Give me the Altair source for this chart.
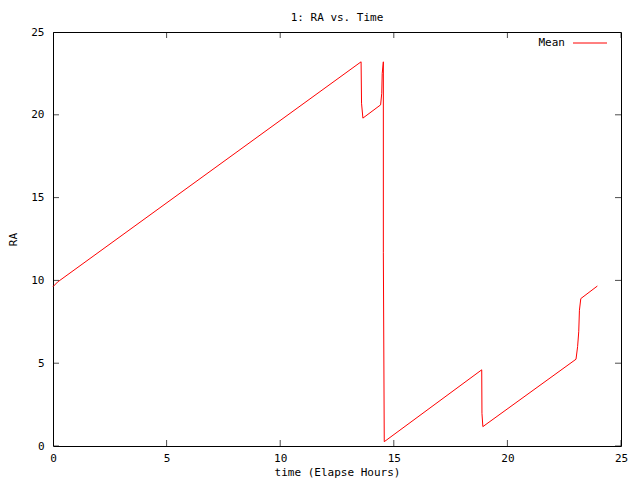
import altair as alt
import pandas as pd

# Data
time_h = [0.0, 0.2, 13.56, 13.58, 13.64, 14.42, 14.47, 14.49, 14.54, 14.54, 14.58,
          18.87, 18.88, 18.92, 23.02, 23.09, 23.14, 23.17, 23.23, 23.96]
ra = [9.62, 9.9, 23.2, 20.7, 19.8, 20.6, 21.3, 22.5, 23.2, 11.7, 0.26,
      4.6, 1.97, 1.17, 5.24, 6.0, 6.9, 8.2, 8.9, 9.66]
tick_vals = [0, 5, 10, 15, 20, 25]
legend_label = ["Mean"]

FONT = "DejaVu Sans Mono"
FS = 11
W, H = 568, 414

xs = alt.Scale(domain=[0, 25], nice=False, zero=False)
ys = alt.Scale(domain=[0, 25], nice=False, zero=False)

df = pd.DataFrame({"time": time_h, "ra": ra, "order": range(len(time_h))})
ticks = pd.DataFrame({"v": tick_vals})

axis_common = dict(values=tick_vals, tickSize=0, domain=False, grid=False, format="d",
                   labelFlush=False, labelOverlap=False,
                   labelFont=FONT, labelFontSize=FS, titleFont=FONT, titleFontSize=FS,
                   titleFontWeight="normal", labelColor="black", titleColor="black")

line = alt.Chart(df).mark_line(color="red", strokeWidth=1).encode(
    x=alt.X("time:Q", scale=xs, title="time (Elapse Hours)",
            axis=alt.Axis(labelPadding=6, titlePadding=3, **axis_common)),
    y=alt.Y("ra:Q", scale=ys, title="RA",
            axis=alt.Axis(labelPadding=9, titlePadding=12, **axis_common)),
    order="order:Q",
)

xt_bottom = alt.Chart(ticks).mark_tick(color="black", size=12, thickness=1, clip=True).encode(
    x=alt.X("v:Q", scale=xs), y=alt.value(H))
xt_top = alt.Chart(ticks).mark_tick(color="black", size=12, thickness=1, clip=True).encode(
    x=alt.X("v:Q", scale=xs), y=alt.value(0))
yt_left = alt.Chart(ticks).mark_tick(color="black", size=12, thickness=1, clip=True).encode(
    y=alt.Y("v:Q", scale=ys), x=alt.value(0))
yt_right = alt.Chart(ticks).mark_tick(color="black", size=12, thickness=1, clip=True).encode(
    y=alt.Y("v:Q", scale=ys), x=alt.value(W))

leg_text = alt.Chart(pd.DataFrame({"t": legend_label})).mark_text(
    align="right", baseline="middle", font=FONT, fontSize=FS, color="black").encode(
    x=alt.value(512), y=alt.value(11), text="t:N")
leg_line = alt.Chart(pd.DataFrame({"t": legend_label})).mark_rule(color="red", strokeWidth=1).encode(
    x=alt.value(520), x2=alt.value(554), y=alt.value(11))

chart = alt.layer(line, xt_bottom, xt_top, yt_left, yt_right, leg_text, leg_line).properties(
    width=W, height=H,
    background="white",
    title=alt.TitleParams("1: RA vs. Time", font=FONT, fontSize=FS, fontWeight="normal",
                          anchor="middle", offset=3, color="black"),
    autosize=alt.AutoSizeParams(type="none"),
    padding={"left": 45, "top": 24, "right": 11, "bottom": 34},
).configure_view(stroke="black", strokeWidth=1)

chart.save("out.html", embed_options={"renderer": "svg", "actions": False})
